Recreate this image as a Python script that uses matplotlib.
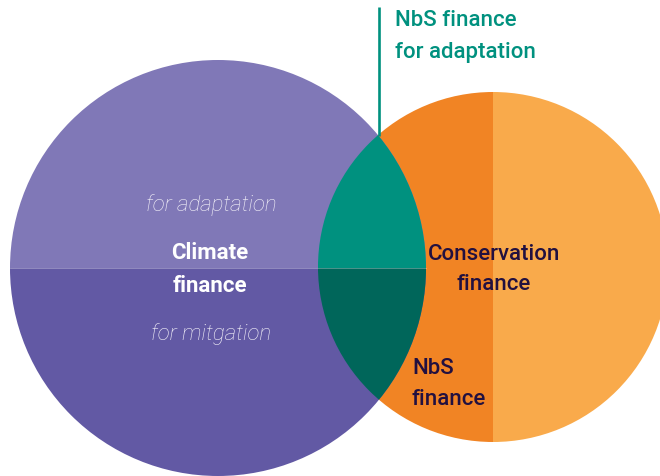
import matplotlib
matplotlib.use('Agg')
import matplotlib.pyplot as plt
from matplotlib.patches import Wedge, Circle

plt.rcParams['font.family'] = ['Roboto', 'DejaVu Sans']

# circles (pixel space: centre x, centre y, radius)
climate_circle      = (218, 269, 208)
conservation_circle = (493, 268, 175)

# fill colours
c_adapt      = '#8078B7'
c_mitig      = '#6259A4'
c_lens_adapt = '#00917F'
c_lens_mitig = '#00665A'
c_cons_left  = '#F18424'
c_cons_right = '#F9AA4B'
c_dark_text  = '#221040'

# labels
callout_label = 'NbS finance\nfor adaptation'
climate_label = 'Climate\nfinance'
cons_label    = 'Conservation\nfinance'
nbs_label     = 'NbS\nfinance'
adapt_label   = 'for adaptation'
mitig_label   = 'for mitgation'

W, H = 660, 477
fig = plt.figure(figsize=(W / 100, H / 100), dpi=100)
ax = fig.add_axes([0, 0, 1, 1])
ax.set_xlim(0, W)
ax.set_ylim(H, 0)
ax.axis('off')

cx1, cy1, r1 = climate_circle
cx2, cy2, r2 = conservation_circle

# conservation circle halves (y axis inverted: theta 90 points down)
ax.add_patch(Wedge((cx2, cy2), r2, 90, 270, color=c_cons_left, lw=0))
ax.add_patch(Wedge((cx2, cy2), r2, 270, 90, color=c_cons_right, lw=0))

# climate circle halves
ax.add_patch(Wedge((cx1, cy1), r1, 180, 360, color=c_adapt, lw=0))
ax.add_patch(Wedge((cx1, cy1), r1, 0, 180, color=c_mitig, lw=0))

# overlap lens, clipped to the conservation circle
clip = Circle((cx2, cy2), r2, transform=ax.transData, fill=False, lw=0)
ax.add_patch(clip)
lens_top = Wedge((cx1, cy1), r1, 180, 360, color=c_lens_adapt, lw=0)
lens_bot = Wedge((cx1, cy1), r1, 0, 180, color=c_lens_mitig, lw=0)
for p in (lens_top, lens_bot):
    ax.add_patch(p)
    p.set_clip_path(clip)

# thin divider on climate circle
ax.plot([cx1 - r1, cx1 + r1], [cy1, cy1], color='white', lw=0.6, alpha=0.35)

# callout line
ax.plot([378.5, 378.5], [8, 137], color=c_lens_adapt, lw=1.9, solid_capstyle='butt')
ax.text(395, 36.5, callout_label, color=c_lens_adapt, fontsize=16,
        fontweight='medium', ha='left', va='center', linespacing=1.65)

ax.text(211, 205, adapt_label, color='#F5F3FA', fontsize=16, fontstyle='italic',
        fontweight='light', ha='center', va='center')
ax.text(211, 334, mitig_label, color='#F5F3FA', fontsize=16, fontstyle='italic',
        fontweight='light', ha='center', va='center')
ax.text(210, 269.5, climate_label, color='white', fontsize=16, fontweight='bold',
        ha='center', va='center', linespacing=1.6)
ax.text(494, 269.5, cons_label, color=c_dark_text, fontsize=16, fontweight='medium',
        ha='center', va='center', linespacing=1.6)
ax.text(412, 384, nbs_label, color=c_dark_text, fontsize=16, fontweight='medium',
        ha='left', va='center', linespacing=1.6)

fig.savefig('out.png', dpi=100)
